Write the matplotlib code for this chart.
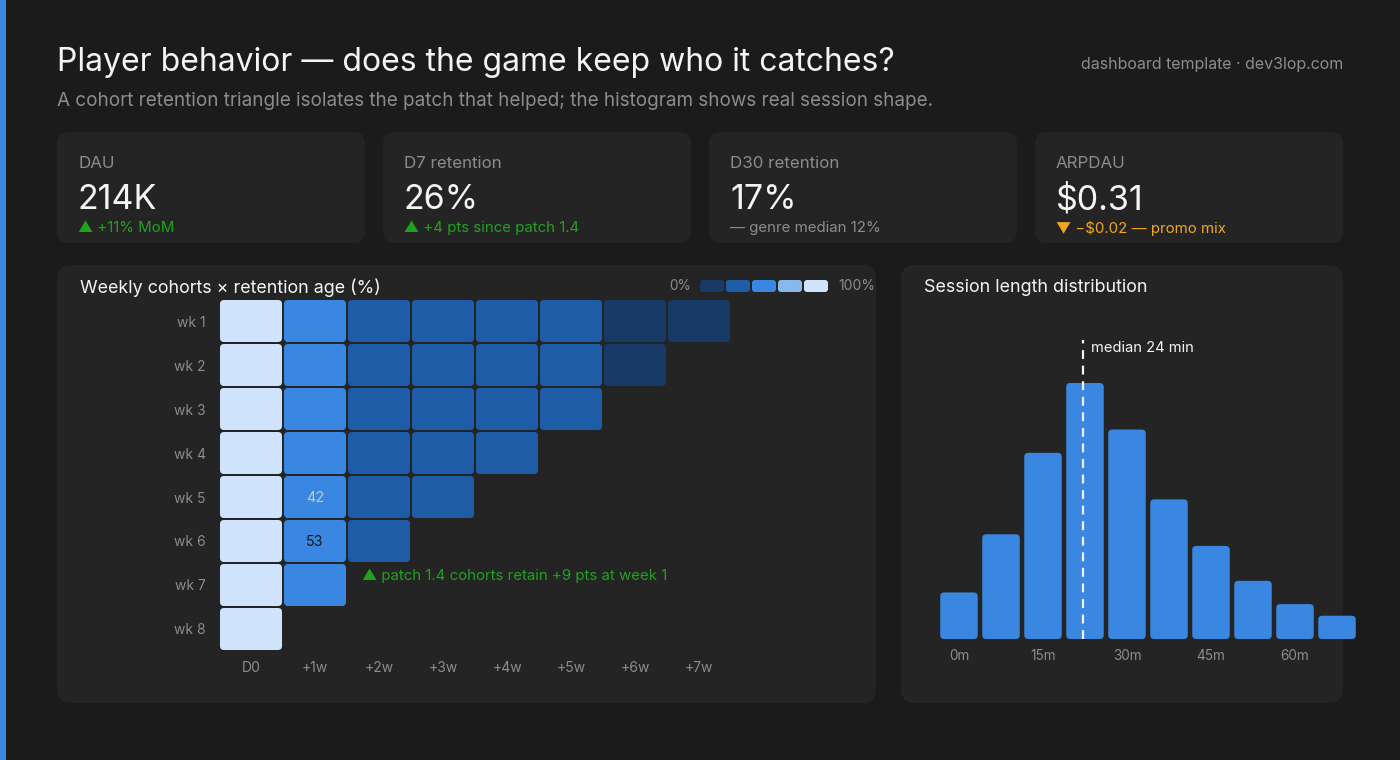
import numpy as np
import matplotlib
matplotlib.use('Agg')
import matplotlib.pyplot as plt
from matplotlib.patches import FancyBboxPatch, Rectangle

plt.rcParams['font.family'] = ['Inter', 'DejaVu Sans']

# ---- data ----
kpi_labels = ['DAU', 'D7 retention', 'D30 retention', 'ARPDAU']
kpi_values = ['214K', '26%', '17%', '$0.31']
kpi_notes = ['▲ +11% MoM', '▲ +4 pts since patch 1.4', '— genre median 12%', '▼ −$0.02 — promo mix']
kpi_tone = ['up', 'up', 'flat', 'down']

cohorts = ['wk 1', 'wk 2', 'wk 3', 'wk 4', 'wk 5', 'wk 6', 'wk 7', 'wk 8']
ages = ['D0', '+1w', '+2w', '+3w', '+4w', '+5w', '+6w', '+7w']
retention = [
    [100, 44, 31, 27, 25, 22, 18, 16],
    [100, 45, 30, 27, 24, 21, 17],
    [100, 43, 30, 26, 24, 21],
    [100, 44, 29, 26, 23],
    [100, 42, 28, 25],
    [100, 53, 35],
    [100, 54],
    [100],
]
labelled_cells = [(4, 1), (5, 1)]
patch_note = '▲ patch 1.4 cohorts retain +9 pts at week 1'

session_bins = [0, 7.5, 15, 22.5, 30, 37.5, 45, 52.5, 60, 67.5]
session_share = [4, 9, 16, 22, 18, 12, 8, 5, 3, 2]
session_ticks = [0, 15, 30, 45, 60]
median_min = 24

# ---- style ----
BG = '#1b1b1b'
PANEL = '#242424'
WHITE = '#f4f4f4'
GREY = '#8c8c8c'
GREEN = '#1fa31f'
ORANGE = '#f2a81d'
BLUE = '#3987e0'
ramp = ['#173a66', '#1f5ca8', '#3987e0', '#87b8ee', '#cfe3fa']
tone_color = {'up': GREEN, 'flat': GREY, 'down': ORANGE}

W, H = 1400, 760
fig = plt.figure(figsize=(14, 7.6), dpi=100, facecolor=BG)

# pixel-space canvas for the frame, cards and headings
bg = fig.add_axes([0, 0, 1, 1], zorder=0)
bg.set_xlim(0, W)
bg.set_ylim(H, 0)
bg.axis('off')
bg.add_patch(Rectangle((0, 0), 6, H, color=BLUE, lw=0))


def card(x, y, w, h, r=12):
    bg.add_patch(FancyBboxPatch((x, y), w, h, boxstyle=f'round,pad=0,rounding_size={r}',
                                fc=PANEL, ec='none'))


bg.text(57, 62.5, 'Player behavior — does the game keep who it catches?', color=WHITE,
        fontsize=23, va='center', ha='left')
bg.text(57, 101.5, 'A cohort retention triangle isolates the patch that helped; the histogram shows real session shape.',
        color=GREY, fontsize=13.6, va='center', ha='left')
bg.text(1343, 65, 'dashboard template · dev3lop.com', color=GREY, fontsize=11.5,
        va='center', ha='right')

for i in range(4):
    x0 = 57 + i * 326
    card(x0, 132, 308, 111)
    bg.text(x0 + 21, 163.5, kpi_labels[i], color=GREY, fontsize=12.2, va='center')
    bg.text(x0 + 21, 200, kpi_values[i], color=WHITE, fontsize=24.5, va='center')
    bg.text(x0 + 21, 228, kpi_notes[i], color=tone_color[kpi_tone[i]], fontsize=10.8, va='center')

card(57, 265, 819, 438, r=14)
card(901, 265, 442, 438, r=14)
bg.text(80, 287.5, 'Weekly cohorts × retention age (%)', color=WHITE, fontsize=12.9, va='center')
bg.text(924, 287.5, 'Session length distribution', color=WHITE, fontsize=12.9, va='center')

# colour legend
bg.text(691, 286.5, '0%', color=GREY, fontsize=9.8, va='center', ha='right')
for k, c in enumerate(ramp):
    bg.add_patch(FancyBboxPatch((700 + k * 26, 280), 24, 12,
                                boxstyle='round,pad=0,rounding_size=3', fc=c, ec='none'))
bg.text(838, 286.5, '100%', color=GREY, fontsize=10, va='center', ha='left')

# ---- retention triangle ----
hx0, hx1, hy0, hy1 = 219, 731, 299, 651
ax = fig.add_axes([hx0 / W, 1 - hy1 / H, (hx1 - hx0) / W, (hy1 - hy0) / H], zorder=2)
ax.set_facecolor('none')
ax.set_xlim(-0.5, len(ages) - 0.5)
ax.set_ylim(len(cohorts) - 0.5, -0.5)
px_x = (hx1 - hx0) / len(ages)
px_y = (hy1 - hy0) / len(cohorts)
cw, ch = 1 - 2 / px_x, 1 - 2 / px_y
for r, row in enumerate(retention):
    for c, v in enumerate(row):
        col = ramp[min(int(v // 20), 4)]
        ax.add_patch(FancyBboxPatch((c - cw / 2, r - ch / 2), cw, ch,
                                    boxstyle=f'round,pad=0,rounding_size={4 / px_x}',
                                    mutation_aspect=px_x / px_y, fc=col, ec='none'))
        if (r, c) in labelled_cells:
            ax.text(c, r + 0.02, str(v), ha='center', va='center', fontsize=10.3,
                    color='#141414' if v > 50 else '#c9c9c9')
ax.text(1.73, 6 - 0.21, patch_note, color=GREEN, fontsize=10.8, va='center', ha='left')
ax.set_xticks(range(len(ages)))
ax.set_xticklabels(ages)
ax.set_yticks(range(len(cohorts)))
ax.set_yticklabels(cohorts)
ax.tick_params(length=0, colors=GREY, labelsize=10)
ax.tick_params(axis='x', pad=7.5)
ax.tick_params(axis='y', pad=9.5)
for s in ax.spines.values():
    s.set_visible(False)

# ---- session histogram ----
sx0, sx1, sy0, sy1 = 930, 1343, 335, 639
zero_px, per_min = 959, 5.6
per_unit = 256 / 22
ax2 = fig.add_axes([sx0 / W, 1 - sy1 / H, (sx1 - sx0) / W, (sy1 - sy0) / H], zorder=2)
ax2.set_facecolor('none')
ax2.set_xlim((sx0 - zero_px) / per_min, (sx1 - zero_px) / per_min)
ax2.set_ylim(0, (sy1 - sy0) / per_unit)
bw = 37.5 / per_min
for b, s in zip(session_bins, session_share):
    ax2.add_patch(FancyBboxPatch((b - bw / 2, 0), bw, s,
                                 boxstyle=f'round,pad=0,rounding_size={4 / per_min}',
                                 mutation_aspect=per_min / per_unit, fc=BLUE, ec='none',
                                 clip_on=False))
# the template drew the median marker just left of the 22.5 bin centre
median_x = 22.1
ax2.plot([median_x, median_x], [0, (sy1 - 340) / per_unit], color=WHITE, lw=1.6,
         ls=(0, (4, 3)), zorder=3, clip_on=False)
ax2.text(median_x + 1.5, (sy1 - 348) / per_unit, f'median {median_min} min', color=WHITE,
         fontsize=10.6, va='center', ha='left')
ax2.set_xticks(session_ticks)
ax2.set_xticklabels([f'{t}m' for t in session_ticks])
ax2.set_yticks([])
ax2.tick_params(length=0, colors=GREY, labelsize=9.8, pad=7)
for s in ax2.spines.values():
    s.set_visible(False)

plt.savefig('out.png', dpi=100, facecolor=BG)
